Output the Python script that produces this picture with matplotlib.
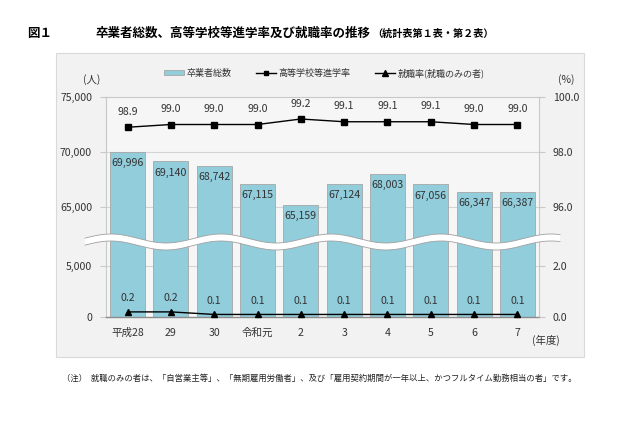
import numpy as np
import matplotlib
matplotlib.use("Agg")
import matplotlib.pyplot as plt
from matplotlib.patches import Rectangle, Polygon
from matplotlib.lines import Line2D

plt.rcParams['font.family'] = ['Noto Sans CJK JP', 'DejaVu Sans']

# ---- data ----
years = ['平成28', '29', '30', '令和元', '2', '3', '4', '5', '6', '7']
graduates = [69996, 69140, 68742, 67115, 65159, 67124, 68003, 67056, 66347, 66387]
advance_rate = [98.9, 99.0, 99.0, 99.0, 99.2, 99.1, 99.1, 99.1, 99.0, 99.0]
employ_rate = [0.2, 0.2, 0.1, 0.1, 0.1, 0.1, 0.1, 0.1, 0.1, 0.1]
left_ticks = [0, 5000, 65000, 70000, 75000]
right_ticks = [0.0, 2.0, 96.0, 98.0, 100.0]

# ---- broken-axis mapping (display units) ----
LOW_TOP = 4.64  # display height of the lower segment top (5,000 / 2.0)

def map_count(v):
    if v <= 5000:
        return v / 5000 * LOW_TOP
    return (v - 55000) / 1000.0

def map_pct(p):
    if p <= 2.0:
        return p / 2.0 * LOW_TOP
    return (p - 92.0) * 2.5

W, H = 640, 426
fig = plt.figure(figsize=(W / 100, H / 100), dpi=100)
fig.patch.set_facecolor('white')

# panel
panel = Rectangle((56 / W, 1 - 357 / H), (584 - 56) / W, (357 - 53) / H,
                  transform=fig.transFigure, facecolor='#f2f2f2',
                  edgecolor='#d9d9d9', linewidth=0.8, zorder=-10)
fig.patches.append(panel)

ax = fig.add_axes([106 / W, 1 - 317 / H, (539 - 106) / W, (317 - 97) / H])
ax.set_facecolor('#f6f6f6')
x = np.arange(len(years))
ax.set_xlim(-0.5, len(years) - 0.5)
ax.set_ylim(0, 20)

# gridlines
for t in left_ticks[1:-1]:
    ax.axhline(map_count(t), color='#d4d4d4', linewidth=0.8, zorder=1)

bar_h = [map_count(v) for v in graduates]
ax.bar(x, bar_h, width=0.81, color='#92cddc', edgecolor='#a6a6a6',
       linewidth=0.6, zorder=2)
for xi, h, v in zip(x, bar_h, graduates):
    ax.annotate(f'{v:,}', (xi, h), xytext=(0, -8), textcoords='offset points',
                ha='center', va='center', fontsize=7.6, color='#333333', zorder=5)

adv_y = [map_pct(p) for p in advance_rate]
ax.plot(x, adv_y, color='black', linewidth=1.0, marker='s', markersize=3.8, zorder=4)
for xi, yy, p in zip(x, adv_y, advance_rate):
    ax.annotate(f'{p:.1f}', (xi, yy), xytext=(0, 11), textcoords='offset points',
                ha='center', va='center', fontsize=7.6, color='#333333', zorder=5)

emp_y = [map_pct(p) for p in employ_rate]
ax.plot(x, emp_y, color='black', linewidth=1.0, marker='^', markersize=5, zorder=4,
        clip_on=False)
for xi, yy, p in zip(x, emp_y, employ_rate):
    ax.annotate(f'{p:.1f}', (xi, yy), xytext=(0, 10), textcoords='offset points',
                ha='center', va='center', fontsize=7.6, color='#333333', zorder=5)

# axes styling
for s in ['top', 'left', 'right']:
    ax.spines[s].set_color('#c8c8c8')
    ax.spines[s].set_linewidth(0.8)
ax.spines['bottom'].set_color('#8c8c8c')
ax.spines['bottom'].set_linewidth(1.0)

ax.set_yticks([map_count(t) for t in left_ticks])
ax.set_yticklabels([f'{t:,}' for t in left_ticks])
ax.tick_params(axis='y', length=4, color='#c8c8c8', labelsize=7.6,
               labelcolor='#333333', pad=6)
ax.set_xticks(x)
ax.set_xticklabels(years)
ax.tick_params(axis='x', length=0, labelsize=7.6, labelcolor='#333333', pad=8)

ax2 = ax.twinx()
ax2.set_ylim(ax.get_ylim())
ax2.set_yticks([map_pct(t) for t in right_ticks])
ax2.set_yticklabels([f'{t:.1f}' for t in right_ticks])
ax2.tick_params(axis='y', length=4, color='#c8c8c8', labelsize=7.6,
                labelcolor='#333333', pad=6)
for s in ax2.spines.values():
    s.set_visible(False)

# wavy break band (figure pixel space)
xs = np.linspace(85, 560, 400)
P = 110.0
yc = 242 - 4.5 * np.sin(2 * np.pi * (xs - (111 - P / 4)) / P)
half = 3.5
top = np.column_stack([xs / W, 1 - (yc - half) / H])
bot = np.column_stack([xs[::-1] / W, 1 - (yc[::-1] + half) / H])
band = Polygon(np.vstack([top, bot]), closed=True, transform=fig.transFigure,
               facecolor='white', edgecolor='none', zorder=10)
fig.patches.append(band)
fig.lines.append(Line2D(top[:, 0], top[:, 1], transform=fig.transFigure,
                        color='#a0a0a0', linewidth=0.6, zorder=11))
fig.lines.append(Line2D(bot[:, 0], bot[:, 1], transform=fig.transFigure,
                        color='#a0a0a0', linewidth=0.6, zorder=11))

# unit labels
fig.text(92 / W, 1 - 80 / H, '(人)', ha='center', va='center', fontsize=7.5, color='#333333')
fig.text(566 / W, 1 - 80 / H, '(%)', ha='center', va='center', fontsize=7.5, color='#333333')
fig.text(546 / W, 1 - 340 / H, '(年度)', ha='center', va='center', fontsize=7.5, color='#333333')

# legend
handles = [
    Rectangle((0, 0), 1, 1, facecolor='#92cddc', edgecolor='#a6a6a6', linewidth=0.6),
    Line2D([], [], color='black', linewidth=1.0, marker='s', markersize=3.5),
    Line2D([], [], color='black', linewidth=1.0, marker='^', markersize=4.5),
]
labels = ['卒業者総数', '高等学校等進学率', '就職率(就職のみの者)']
fig.legend(handles, labels, loc='center', bbox_to_anchor=(324 / W, 1 - 73 / H),
           ncol=3, frameon=False, fontsize=6.5, handlelength=2.2, handleheight=0.5,
           columnspacing=2.7, handletextpad=0.3, labelcolor='#333333')

# title
fig.text(27 / W, 1 - 33 / H, '図１', ha='left', va='center', fontsize=9.0,
         fontweight='bold', color='black')
t = fig.text(95 / W, 1 - 33 / H, '卒業者総数、高等学校等進学率及び就職率の推移',
             ha='left', va='center', fontsize=9.0, fontweight='bold', color='black')
fig.canvas.draw()
bb = t.get_window_extent()
fig.text(bb.x1 / W + 2 / W, 1 - 34 / H, '（統計表第１表・第２表）', ha='left',
         va='center', fontsize=7.3, fontweight='bold', color='black')

# note
fig.text(62 / W, 1 - 378 / H,
         '（注）  就職のみの者は、「自営業主等」、「無期雇用労働者」、及び「雇用契約期間が一年以上、かつフルタイム勤務相当の者」です。',
         ha='left', va='center', fontsize=6.0, color='#222222')

fig.savefig('out.png', dpi=100)
